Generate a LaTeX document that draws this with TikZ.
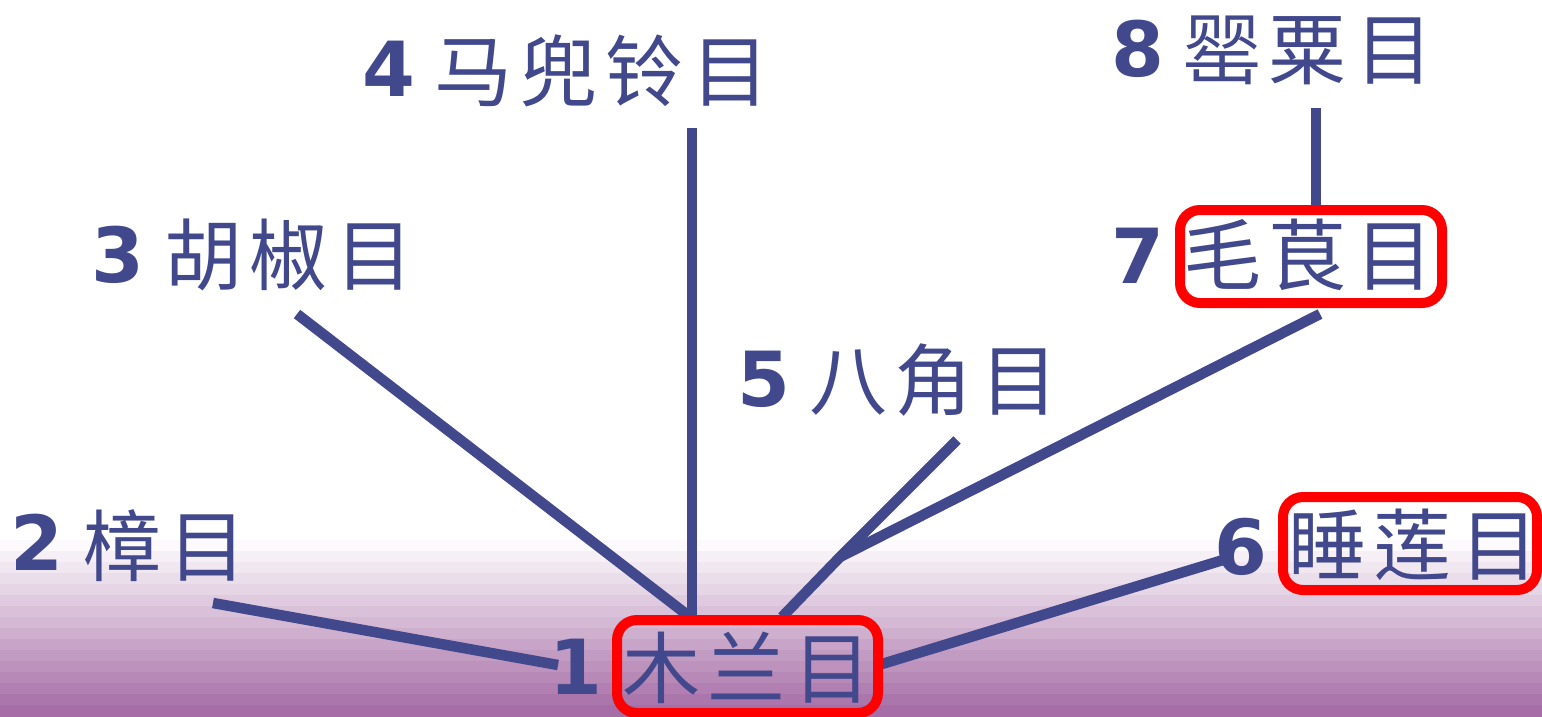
\documentclass[tikz,border=0pt]{standalone}
\usepackage{fontspec}
\newfontfamily\cjk{Noto Sans CJK SC}
\newfontfamily\numf{DejaVu Sans}
\definecolor{ink}{RGB}{65,72,140}
\definecolor{bot}{RGB}{163,104,163}
\definecolor{hlred}{RGB}{255,0,0}
\newcommand{\sep}{\kern8pt}
\begin{document}
\begin{tikzpicture}[x=1pt,y=-1pt,
  num/.style={font=\numf\bfseries\fontsize{76}{76}\selectfont, text=ink, inner sep=0pt, text height=55pt, text depth=0pt},
  lbl/.style={font=\cjk\fontsize{78}{78}\selectfont, text=ink, inner sep=0pt, text height=65pt, text depth=5pt},
  lnk/.style={draw=ink, line width=10.5pt},
  hl/.style={draw=hlred, line width=10pt, rounded corners=20pt}]
\useasboundingbox (0,0) rectangle (1542,716);
\fill[white] (0,0) rectangle (1542,716);
\foreach \i in {0,...,15}{
  \pgfmathtruncatemacro\p{(\i+0.6)*100/16}
  \fill[bot!\p!white] (0,{540+\i*11}) rectangle (1542,{540+(\i+1)*11+0.5});
}
% line end points
\coordinate (t2) at (213,603);
\coordinate (b2) at (558,665);
\coordinate (t3) at (297,314);
\coordinate (b3) at (690,617);
\coordinate (t4) at (692,128);
\coordinate (b4) at (692,617);
\coordinate (t5) at (957,440);
\coordinate (j) at (840,557);
\coordinate (b5) at (782,617);
\coordinate (t7) at (1320,314);
\coordinate (t8) at (1316,108);
\coordinate (b8) at (1316,207);
\coordinate (t6) at (1223,560);
\coordinate (b6) at (882,664);
% connectors
\draw[lnk] (t2) -- (b2);
\draw[lnk] (t3) -- (b3);
\draw[lnk] (t4) -- (b4);
\draw[lnk] (t5) -- (j) -- (b5);
\draw[lnk] (t7) -- (j);
\draw[lnk] (t8) -- (b8);
\draw[lnk] (t6) -- (b6);
% labels
\node[num] (n1) at (576,667) {1};
\node[lbl] (c1) at (747,667) {木\sep 兰\sep 目};
\node[num] (n2) at (37,543) {2};
\node[lbl] (c2) at (165,545) {樟\sep 目};
\node[num] (n3) at (118,255) {3};
\node[lbl] (c3) at (289,254) {胡\sep 椒\sep 目};
\node[num] (n4) at (389,69) {4};
\node[lbl] (c4) at (602,70) {马\sep 兜\sep 铃\sep 目};
\node[num] (n5) at (764,379) {5};
\node[lbl] (c5) at (934,379) {八\sep 角\sep 目};
\node[num] (n6) at (1241,547) {6};
\node[lbl] (c6) at (1413,544) {睡\sep 莲\sep 目};
\node[num] (n7) at (1138,256) {7};
\node[lbl] (c7) at (1308,254) {毛\sep 茛\sep 目};
\node[num] (n8) at (1138,49) {8};
\node[lbl] (c8) at (1308,48) {罂\sep 粟\sep 目};
% highlight boxes
\draw[hl] (617,620) rectangle (878,713);
\draw[hl] (1283,497) rectangle (1537,590);
\draw[hl] (1180,210) rectangle (1442,303);
\end{tikzpicture}
\end{document}
